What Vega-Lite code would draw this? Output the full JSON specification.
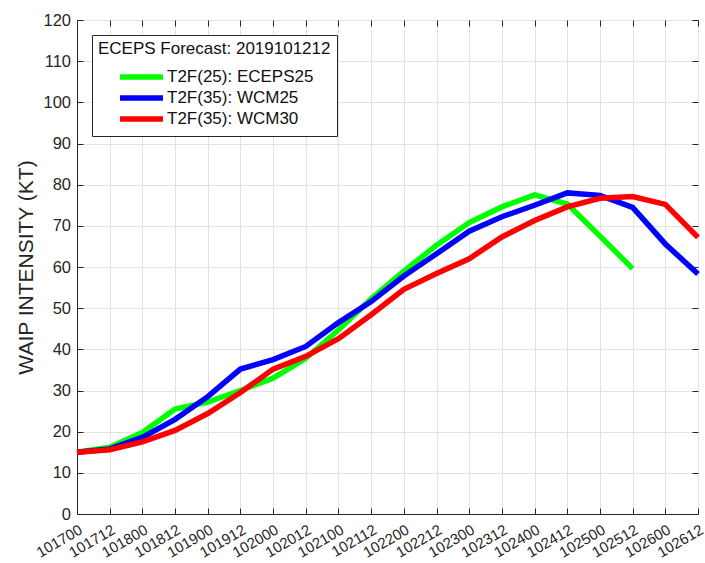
{
  "$schema": "https://vega.github.io/schema/vega-lite/v6.json",
  "width": 621,
  "height": 494,
  "autosize": {"type": "none"},
  "padding": {"left": 77, "top": 20, "right": 7, "bottom": 49},
  "background": "white",
  "config": {
    "font": "Liberation Sans",
    "view": {"stroke": "#262626", "strokeWidth": 1}
  },
  "data": {
    "values": [
      {"t": "101700", "s": "T2F(25): ECEPS25", "v": 15},
      {"t": "101712", "s": "T2F(25): ECEPS25", "v": 16.2},
      {"t": "101800", "s": "T2F(25): ECEPS25", "v": 19.8},
      {"t": "101812", "s": "T2F(25): ECEPS25", "v": 25.5},
      {"t": "101900", "s": "T2F(25): ECEPS25", "v": 27.2},
      {"t": "101912", "s": "T2F(25): ECEPS25", "v": 30},
      {"t": "102000", "s": "T2F(25): ECEPS25", "v": 33},
      {"t": "102012", "s": "T2F(25): ECEPS25", "v": 37.8},
      {"t": "102100", "s": "T2F(25): ECEPS25", "v": 44.7},
      {"t": "102112", "s": "T2F(25): ECEPS25", "v": 52.3},
      {"t": "102200", "s": "T2F(25): ECEPS25", "v": 59},
      {"t": "102212", "s": "T2F(25): ECEPS25", "v": 65.3},
      {"t": "102300", "s": "T2F(25): ECEPS25", "v": 70.8},
      {"t": "102312", "s": "T2F(25): ECEPS25", "v": 74.6},
      {"t": "102400", "s": "T2F(25): ECEPS25", "v": 77.5},
      {"t": "102412", "s": "T2F(25): ECEPS25", "v": 75.3},
      {"t": "102500", "s": "T2F(25): ECEPS25", "v": 67.5},
      {"t": "102512", "s": "T2F(25): ECEPS25", "v": 59.6},
      {"t": "101700", "s": "T2F(35): WCM25", "v": 15},
      {"t": "101712", "s": "T2F(35): WCM25", "v": 15.8},
      {"t": "101800", "s": "T2F(35): WCM25", "v": 18.6},
      {"t": "101812", "s": "T2F(35): WCM25", "v": 23},
      {"t": "101900", "s": "T2F(35): WCM25", "v": 28.5},
      {"t": "101912", "s": "T2F(35): WCM25", "v": 35.2},
      {"t": "102000", "s": "T2F(35): WCM25", "v": 37.5},
      {"t": "102012", "s": "T2F(35): WCM25", "v": 40.7},
      {"t": "102100", "s": "T2F(35): WCM25", "v": 46.5},
      {"t": "102112", "s": "T2F(35): WCM25", "v": 51.6},
      {"t": "102200", "s": "T2F(35): WCM25", "v": 57.8},
      {"t": "102212", "s": "T2F(35): WCM25", "v": 63.2},
      {"t": "102300", "s": "T2F(35): WCM25", "v": 68.7},
      {"t": "102312", "s": "T2F(35): WCM25", "v": 72.2},
      {"t": "102400", "s": "T2F(35): WCM25", "v": 75},
      {"t": "102412", "s": "T2F(35): WCM25", "v": 78},
      {"t": "102500", "s": "T2F(35): WCM25", "v": 77.4},
      {"t": "102512", "s": "T2F(35): WCM25", "v": 74.5},
      {"t": "102600", "s": "T2F(35): WCM25", "v": 65.6},
      {"t": "102612", "s": "T2F(35): WCM25", "v": 58.3},
      {"t": "101700", "s": "T2F(35): WCM30", "v": 15},
      {"t": "101712", "s": "T2F(35): WCM30", "v": 15.6},
      {"t": "101800", "s": "T2F(35): WCM30", "v": 17.5},
      {"t": "101812", "s": "T2F(35): WCM30", "v": 20.3},
      {"t": "101900", "s": "T2F(35): WCM30", "v": 24.4},
      {"t": "101912", "s": "T2F(35): WCM30", "v": 29.5},
      {"t": "102000", "s": "T2F(35): WCM30", "v": 35.2},
      {"t": "102012", "s": "T2F(35): WCM30", "v": 38.3},
      {"t": "102100", "s": "T2F(35): WCM30", "v": 42.6},
      {"t": "102112", "s": "T2F(35): WCM30", "v": 48.4},
      {"t": "102200", "s": "T2F(35): WCM30", "v": 54.6},
      {"t": "102212", "s": "T2F(35): WCM30", "v": 58.4},
      {"t": "102300", "s": "T2F(35): WCM30", "v": 62},
      {"t": "102312", "s": "T2F(35): WCM30", "v": 67.3},
      {"t": "102400", "s": "T2F(35): WCM30", "v": 71.3},
      {"t": "102412", "s": "T2F(35): WCM30", "v": 74.6},
      {"t": "102500", "s": "T2F(35): WCM30", "v": 76.7},
      {"t": "102512", "s": "T2F(35): WCM30", "v": 77.1},
      {"t": "102600", "s": "T2F(35): WCM30", "v": 75.2},
      {"t": "102612", "s": "T2F(35): WCM30", "v": 67.2}
    ]
  },
  "resolve": {"axis": {"x": "independent", "y": "independent"}},
  "layer": [
    {
      "mark": {"type": "line", "strokeWidth": 5.5},
      "encoding": {
        "x": {
          "field": "t", "type": "ordinal",
          "scale": {"type": "point", "padding": 0},
          "axis": {
            "title": null, "labelAngle": -30, "labelAlign": "right", "labelBaseline": "top",
            "labelFontSize": 15, "labelColor": "#262626", "labelPadding": 14, "labelOffset": 0,
            "tickSize": -6, "tickColor": "#262626", "domainColor": "#262626",
            "grid": true, "gridColor": "#e2e2e2", "labelOverlap": false
          }
        },
        "y": {
          "field": "v", "type": "quantitative",
          "scale": {"domain": [0, 120], "nice": false},
          "axis": {
            "title": "WAIP INTENSITY (KT)", "titleFontSize": 21, "titleFontWeight": "normal",
            "titleColor": "#262626", "titlePadding": 6,
            "values": [0, 10, 20, 30, 40, 50, 60, 70, 80, 90, 100, 110, 120],
            "labelFontSize": 16.5, "labelColor": "#262626", "labelPadding": 12.5,
            "tickSize": -6, "tickColor": "#262626", "domainColor": "#262626",
            "grid": true, "gridColor": "#e2e2e2"
          }
        },
        "color": {
          "field": "s", "type": "nominal",
          "scale": {
            "domain": ["T2F(25): ECEPS25", "T2F(35): WCM25", "T2F(35): WCM30"],
            "range": ["#00ff00", "#0000ff", "#ff0000"]
          },
          "legend": {
            "orient": "none", "legendX": 15, "legendY": 15,
            "title": "ECEPS Forecast: 2019101212", "titleFontSize": 17, "titleFontWeight": "normal",
            "titleColor": "#111111", "titlePadding": 9, "titleLimit": 400,
            "labelFontSize": 17, "labelColor": "#111111", "labelLimit": 400,
            "symbolType": "M-3,0H3", "symbolSize": 205, "symbolStrokeWidth": 5.5,
            "symbolOffset": 33.5, "labelOffset": 15.5,
            "strokeColor": "#262626", "fillColor": "white", "padding": 6, "rowPadding": -1
          }
        }
      }
    },
    {
      "mark": {"type": "line", "opacity": 0},
      "encoding": {
        "x": {
          "field": "t", "type": "ordinal",
          "scale": {"type": "point", "padding": 0},
          "axis": {"orient": "top", "title": null, "labels": false, "grid": false, "domain": false,
                   "tickSize": -6, "tickColor": "#262626"}
        },
        "y": {
          "field": "v", "type": "quantitative",
          "axis": {"orient": "right", "title": null, "labels": false, "grid": false, "domain": false,
                   "values": [0, 10, 20, 30, 40, 50, 60, 70, 80, 90, 100, 110, 120],
                   "tickSize": -6, "tickColor": "#262626"}
        },
        "detail": {"field": "s"}
      }
    }
  ]
}
